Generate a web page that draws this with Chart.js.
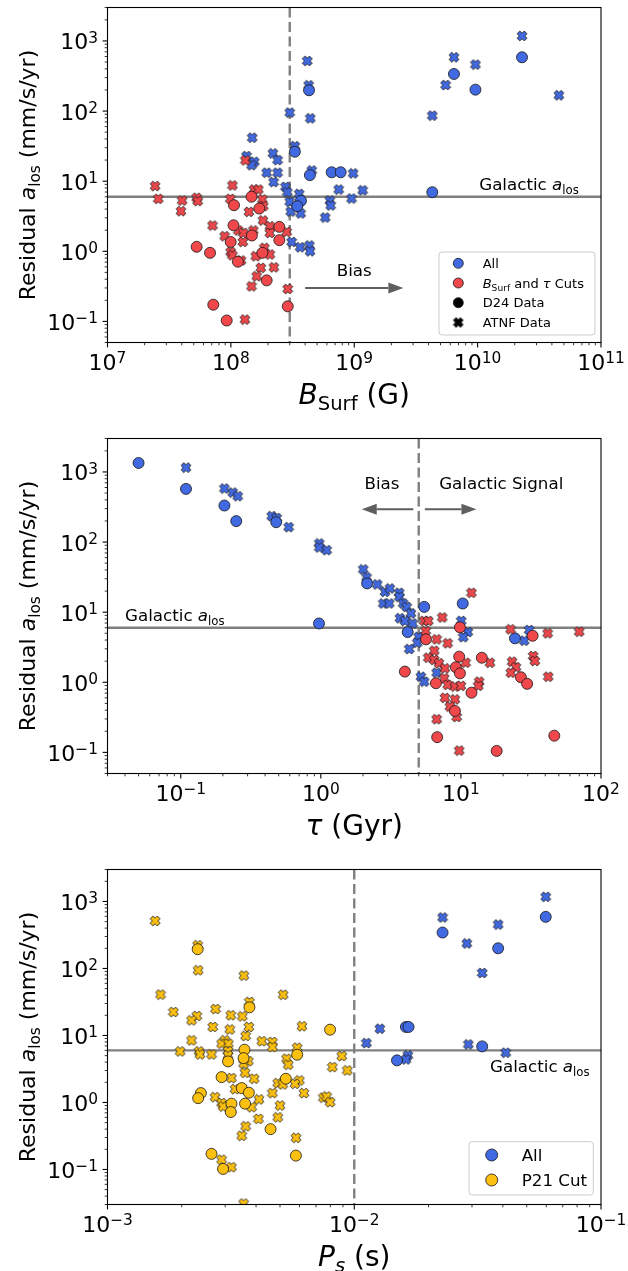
<!DOCTYPE html>
<html>
<head>
<meta charset="utf-8">
<script src="https://cdn.jsdelivr.net/npm/chart.js@4.4.0/dist/chart.umd.min.js"></script>
<style>
  html, body { margin: 0; padding: 0; background: #fff; width: 628px; height: 1271px; overflow: hidden; }
  .panel { position: absolute; left: 0; width: 628px; height: 431px; }
</style>
</head>
<body>
<div class="panel" style="top:0px"><canvas id="bsurfChart" width="628" height="431"></canvas></div>
<div class="panel" style="top:431px"><canvas id="tauChart" width="628" height="431"></canvas></div>
<div class="panel" style="top:862px"><canvas id="periodChart" width="628" height="431"></canvas></div>
<script>
// ---- residual a_los vs surface field B_Surf (G) ----
const bsurfAllD24 = [[4.3e8, 198], [3.3e8, 26.3], [4.37e8, 12.2], [6.56e8, 13.4], [7.76e8, 13.4], [3.7e8, 5.25],
    [3.45e8, 4.4], [2.29e10, 585], [6.43e9, 338], [9.6e9, 202], [4.29e9, 6.96]];
const bsurfAllAtnf = [[4.16e8, 518], [4.27e8, 233], [3.0e8, 95], [4.4e8, 78.7], [1.49e8, 41.7], [3.3e8, 31.6],
    [1.34e8, 22.8], [2.19e8, 24.9], [1.55e8, 18.9], [2.39e8, 20], [1.47e8, 16.9], [1.95e8, 13.2], [2.39e8, 13.2],
    [4.52e8, 14.2], [2.22e8, 9.7], [9.8e8, 12.9], [2.77e8, 8.3], [2.87e8, 6.96], [7.48e8, 7.6], [3.58e8, 6.6],
    [9.5e8, 5.66], [6.35e8, 5.3], [6.44e8, 4.5], [3.0e8, 5.1], [3.68e8, 3.46], [3.05e8, 3.69], [5.82e8, 3.03],
    [3.11e8, 1.36], [3.64e8, 1.14], [4.33e8, 1.21], [4.38e8, 1.0], [2.29e10, 1180], [6.43e9, 585], [9.6e9, 460],
    [5.5e9, 235], [4.29e9, 86], [4.56e10, 168], [1.17e9, 7.4]];
const bsurfCutD24 = [[1.47e8, 6.0], [1.06e8, 4.54], [1.7e8, 4.07], [1.05e8, 2.35], [2.47e8, 2.23], [1.48e8, 1.68],
    [9.96e7, 1.36], [2.47e8, 1.44], [5.28e7, 1.16], [6.78e7, 0.95], [1.8e8, 0.95], [1.14e8, 0.71], [1.95e8, 0.385],
    [7.2e7, 0.173], [2.89e8, 0.164], [9.25e7, 0.103]];
const bsurfCutAtnf = [[2.43e7, 8.5], [2.58e7, 5.6], [4.03e7, 5.3], [3.94e7, 3.73], [5.28e7, 5.8], [5.38e7, 5.2],
    [1.03e8, 8.7], [9.9e7, 5.6], [1.31e8, 19.8], [1.54e8, 7.6], [1.67e8, 7.6], [1.8e8, 5.5], [1.83e8, 4.4],
    [1.4e8, 3.65], [7.1e7, 2.33], [1.82e8, 2.75], [2.07e8, 2.28], [8.9e7, 1.64], [1.15e8, 1.98], [1.26e8, 1.83],
    [1.25e8, 1.36], [1.52e8, 1.98], [2.07e8, 1.83], [2.83e8, 1.89], [9.96e7, 0.98], [1.03e8, 0.877], [1.21e8, 0.74],
    [1.59e8, 0.85], [1.87e8, 1.12], [2.07e8, 0.9], [2.23e8, 0.59], [1.75e8, 0.58], [1.62e8, 0.44], [1.47e8, 0.316],
    [2.89e8, 0.29], [1.3e8, 0.106]];

// ---- residual a_los vs characteristic age tau (Gyr) ----
const tauAllD24 = [[0.05, 1343], [0.109, 573], [0.205, 332], [0.249, 199], [0.48, 192], [0.97, 6.9], [2.14, 25.7],
    [5.47, 11.9], [4.17, 5.2], [10.3, 13.3], [24.3, 4.24]];
const tauAllAtnf = [[0.109, 1155], [0.205, 580], [0.235, 509], [0.255, 451], [0.446, 234], [0.484, 220],
    [0.589, 163], [0.975, 95.5], [0.975, 83.8], [1.1, 76.7], [2.01, 40.7], [2.12, 31.3], [2.53, 24.9], [2.87, 19.5],
    [3.11, 21.8], [3.63, 18.9], [3.63, 16.6], [2.79, 13.3], [3.08, 13.3], [3.87, 13.3], [4.1, 11.9], [4.4, 9.6],
    [3.67, 8.2], [3.98, 7.5], [4.52, 6.9], [4.99, 4.46], [4.88, 3.67], [4.28, 2.98], [5.18, 1.2], [5.47, 1.02],
    [6.71, 1.37], [10.05, 7.5], [11.2, 5.2], [10.4, 4.4], [30.7, 5.56], [28.3, 3.92]];
const tauCutD24 = [[5.63, 4.1], [9.84, 6.07], [9.72, 2.32], [14.1, 2.24], [9.2, 1.64], [9.84, 1.34], [32.5, 4.61],
    [3.98, 1.42], [6.63, 0.97], [11.9, 0.71], [26.8, 1.18], [29.7, 0.95], [9.06, 0.39], [6.77, 0.165], [18, 0.105],
    [46.4, 0.173]];
const tauCutAtnf = [[11.9, 18.9], [7.36, 8.4], [5.47, 7.5], [5.85, 7.5], [5.6, 5.38], [6.71, 4.1], [8.04, 3.6],
    [6.45, 2.82], [5.85, 2.24], [6.45, 2.08], [6.97, 1.87], [7.69, 1.58], [10.8, 1.9], [16.1, 1.9], [23.2, 1.97],
    [24.7, 1.64], [22.7, 1.37], [32.8, 2.37], [33.7, 2.01], [41.6, 4.99], [69.9, 5.26], [22.6, 5.69], [42, 1.2],
    [7.6, 1.14], [8.04, 0.92], [9.06, 0.87], [10.0, 0.89], [13.5, 1.02], [13.3, 0.89], [7.69, 0.6], [9.06, 0.57],
    [8.34, 0.45], [9.32, 0.32], [6.71, 0.297], [9.72, 0.106]];

// ---- residual a_los vs spin period P_s (s) ----
const periodAllD24 = [[0.0597, 589], [0.0228, 344], [0.0383, 200], [0.0162, 13.4], [0.0166, 13.4], [0.033, 6.87],
    [0.0149, 4.25]];
const periodAllAtnf = [[0.0597, 1172], [0.0228, 577], [0.0383, 453], [0.0286, 236], [0.033, 85.7], [0.0127, 12.6],
    [0.0112, 7.7], [0.029, 7.36], [0.0411, 5.53], [0.0165, 5.04], [0.0162, 4.39]];
const periodCutD24 = [[0.00232, 194], [0.00376, 26.3], [0.00798, 12.2], [0.00359, 6.13], [0.00356, 4.59],
    [0.00308, 4.1], [0.00587, 5.16], [0.0029, 2.39], [0.00528, 2.26], [0.0035, 1.64], [0.00374, 1.4],
    [0.00239, 1.38], [0.00233, 1.16], [0.00318, 0.96], [0.00316, 0.72], [0.00361, 0.96], [0.00458, 0.4],
    [0.00264, 0.171], [0.0058, 0.161], [0.00294, 0.102]];
const periodCutAtnf = [[0.00156, 513], [0.00232, 222], [0.00233, 94], [0.00357, 78.3], [0.00164, 40.7],
    [0.00515, 40.6], [0.00376, 31.6], [0.00185, 22.4], [0.00274, 24.8], [0.0023, 19.5], [0.00219, 16.8],
    [0.00316, 20], [0.00352, 19.3], [0.00267, 13.4], [0.00313, 12.3], [0.00374, 13.4], [0.00614, 13.7],
    [0.00219, 8.45], [0.00299, 8.45], [0.0029, 7.54], [0.00309, 7.54], [0.00363, 9.8], [0.00422, 8.2],
    [0.00466, 8.0], [0.00466, 6.7], [0.00587, 6.57], [0.00197, 5.78], [0.00235, 5.78], [0.00237, 5.22],
    [0.00264, 5.22], [0.00308, 5.85], [0.00308, 5.04], [0.00372, 4.14], [0.00356, 3.79], [0.00532, 4.5],
    [0.0054, 3.66], [0.0089, 4.92], [0.00815, 3.37], [0.00937, 3.01], [0.00318, 2.31], [0.00361, 2.78],
    [0.00393, 2.26], [0.00599, 2.13], [0.0049, 1.94], [0.00513, 1.86], [0.00575, 1.9], [0.00329, 1.58],
    [0.00466, 1.38], [0.00625, 1.38], [0.00273, 1.2], [0.0029, 0.98], [0.00294, 0.87], [0.00384, 0.85],
    [0.00411, 1.11], [0.005, 0.9], [0.0075, 1.18], [0.00773, 1.23], [0.00798, 1.01], [0.00409, 0.57],
    [0.0049, 0.6], [0.00363, 0.44], [0.0035, 0.318], [0.00581, 0.297], [0.0029, 0.14], [0.00318, 0.108],
    [0.00356, 0.031]];

// axis limits and reference values
const bsurfRange = [1e7, 1e11];
const tauRange = [0.03, 100];
const periodRange = [1e-3, 1e-1];
const alosRange = [0.05, 3000];
const alosRangePeriod = [0.03, 3000];
const galacticAlos = 6;
const bsurfCut = 3e8;
const tauCut = 5;
const periodCut = 0.01;

const BLUE = '#4169e1';
const RED = '#f0474b';
const GOLD = '#fcc010';
const EDGE = 'rgba(25,25,25,0.9)';
const FONT = '"DejaVu Sans"';

// filled "X" marker as a small canvas so Chart.js can use it as pointStyle
function makeCross(fill, size) {
    const c = document.createElement('canvas');
    c.width = c.height = size;
    const g = c.getContext('2d');
    const L = size * 0.42, a = L * 0.38;
    const pts = [[a, L], [a, a], [L, a], [L, -a], [a, -a], [a, -L], [-a, -L], [-a, -a], [-L, -a], [-L, a], [-a, a], [-a, L]];
    g.translate(size / 2, size / 2);
    g.rotate(Math.PI / 4);
    g.beginPath();
    pts.forEach(([x, y], i) => i ? g.lineTo(x, y) : g.moveTo(x, y));
    g.closePath();
    g.fillStyle = fill;
    g.fill();
    g.lineWidth = 0.9;
    g.strokeStyle = EDGE;
    g.stroke();
    return c;
}

const crossBlue = makeCross(BLUE, 12);
const crossRed = makeCross(RED, 12);
const crossGold = makeCross(GOLD, 12);
const crossBlack = makeCross('#000', 12);

function circleSet(points, color) {
    return {
        data: points.map(p => ({ x: p[0], y: p[1] })),
        pointStyle: 'circle', pointRadius: 5.5, backgroundColor: color,
        borderColor: EDGE, borderWidth: 0.9, showLine: false, clip: 0
    };
}
function crossSet(points, img) {
    return {
        data: points.map(p => ({ x: p[0], y: p[1] })),
        pointStyle: img, pointRadius: 5, showLine: false, clip: 0
    };
}

// ---- rich text: italic / sub / superscript pieces ----
function partFont(p, size) {
    return (p.it ? 'italic ' : '') + (size * (p.k || 1)).toFixed(1) + 'px ' + FONT;
}
function richWidth(ctx, parts, size) {
    let w = 0;
    for (const p of parts) { ctx.font = partFont(p, size); w += ctx.measureText(p.t).width; }
    return w;
}
function drawRich(ctx, parts, x, y, size, align) {
    const w = richWidth(ctx, parts, size);
    let cx = align === 'center' ? x - w / 2 : align === 'right' ? x - w : x;
    ctx.textAlign = 'left';
    ctx.textBaseline = 'alphabetic';
    for (const p of parts) {
        ctx.font = partFont(p, size);
        ctx.fillText(p.t, cx, y + (p.dy || 0) * size);
        cx += ctx.measureText(p.t).width;
    }
}
const sub = (t, it) => ({ t, k: 0.7, dy: 0.22, it });
function powParts(e) {
    return [{ t: '10' }, { t: (e < 0 ? '\u2212' : '') + Math.abs(e), k: 0.7, dy: -0.3 }];
}
const galacticLabel = [{ t: 'Galactic ' }, { t: 'a', it: true }, sub('los')];
const yTitle = [{ t: 'Residual ' }, { t: 'a', it: true }, sub('los'), { t: ' (mm/s/yr)' }];

function logTicks(min, max) {
    const out = [];
    for (let e = Math.floor(Math.log10(min)); e <= Math.ceil(Math.log10(max)); e++) {
        for (let m = 1; m < 10; m++) {
            const v = m * Math.pow(10, e);
            if (v >= min * 0.9999 && v <= max * 1.0001) out.push({ v, e, major: m === 1 });
        }
    }
    return out;
}

// frame, ticks, tick labels and axis titles
function drawAxes(chart, xTitle) {
    const ctx = chart.ctx;
    const { left, right, top, bottom } = chart.chartArea;
    const xs = chart.scales.x, ys = chart.scales.y;
    ctx.save();
    ctx.strokeStyle = '#000';
    ctx.fillStyle = '#000';
    for (const t of logTicks(xs.min, xs.max)) {
        const px = xs.getPixelForValue(t.v);
        ctx.lineWidth = t.major ? 1.1 : 0.8;
        ctx.beginPath();
        ctx.moveTo(px, bottom);
        ctx.lineTo(px, bottom + (t.major ? 4.9 : 2.8));
        ctx.stroke();
        if (t.major) drawRich(ctx, powParts(t.e), px, bottom + 27.5, 22, 'center');
    }
    for (const t of logTicks(ys.min, ys.max)) {
        const py = ys.getPixelForValue(t.v);
        ctx.lineWidth = t.major ? 1.1 : 0.8;
        ctx.beginPath();
        ctx.moveTo(left, py);
        ctx.lineTo(left - (t.major ? 4.9 : 2.8), py);
        ctx.stroke();
        if (t.major) drawRich(ctx, powParts(t.e), left - 9.5, py + 8.5, 22, 'right');
    }
    ctx.lineWidth = 1.1;
    ctx.strokeRect(left, top, right - left, bottom - top);
    drawRich(ctx, xTitle, (left + right) / 2, bottom + 61.5, 28, 'center');
    ctx.translate(35, (top + bottom) / 2);
    ctx.rotate(-Math.PI / 2);
    drawRich(ctx, yTitle, 0, 0, 22, 'center');
    ctx.restore();
}

function drawGuides(chart, xCut) {
    const ctx = chart.ctx;
    const { left, right, top, bottom } = chart.chartArea;
    const px = chart.scales.x.getPixelForValue(xCut);
    const py = chart.scales.y.getPixelForValue(galacticAlos);
    ctx.save();
    ctx.strokeStyle = '#808080';
    ctx.lineWidth = 2.4;
    ctx.beginPath();
    ctx.moveTo(left, py);
    ctx.lineTo(right, py);
    ctx.stroke();
    ctx.setLineDash([10, 4.5]);
    ctx.beginPath();
    ctx.moveTo(px, top);
    ctx.lineTo(px, bottom);
    ctx.stroke();
    ctx.restore();
}

function arrow(ctx, x0, x1, y) {
    const dir = Math.sign(x1 - x0), head = 15, hw = 5.5;
    ctx.save();
    ctx.strokeStyle = ctx.fillStyle = '#5f5f5f';
    ctx.lineWidth = 2;
    ctx.beginPath();
    ctx.moveTo(x0, y);
    ctx.lineTo(x1 - dir * head, y);
    ctx.stroke();
    ctx.beginPath();
    ctx.moveTo(x1, y);
    ctx.lineTo(x1 - dir * head, y - hw);
    ctx.lineTo(x1 - dir * head, y + hw);
    ctx.closePath();
    ctx.fill();
    ctx.restore();
}

function drawLegend(ctx, box, rows, size, markerX, textX) {
    ctx.save();
    const [x0, y0, x1, y1] = box, r = 3;
    ctx.beginPath();
    ctx.moveTo(x0 + r, y0);
    ctx.arcTo(x1, y0, x1, y1, r);
    ctx.arcTo(x1, y1, x0, y1, r);
    ctx.arcTo(x0, y1, x0, y0, r);
    ctx.arcTo(x0, y0, x1, y0, r);
    ctx.closePath();
    ctx.fillStyle = 'rgba(255,255,255,0.8)';
    ctx.fill();
    ctx.strokeStyle = '#cccccc';
    ctx.lineWidth = 1;
    ctx.stroke();
    for (const row of rows) {
        if (row.cross) {
            ctx.drawImage(row.cross, markerX - row.cross.width / 2, row.y - row.cross.height / 2);
        } else {
            ctx.beginPath();
            ctx.arc(markerX, row.y, row.r, 0, Math.PI * 2);
            ctx.fillStyle = row.color;
            ctx.fill();
            ctx.lineWidth = 0.9;
            ctx.strokeStyle = EDGE;
            ctx.stroke();
        }
        ctx.fillStyle = '#000';
        drawRich(ctx, row.label, textX, row.y + size * 0.36, size, 'left');
    }
    ctx.restore();
}

function makePanel(id, datasets, xRange, yRange, xCut, xTitle, annotate) {
    const decor = {
        id: 'decor',
        beforeDatasetsDraw(chart) { drawGuides(chart, xCut); },
        afterDatasetsDraw(chart) {
            annotate(chart);
            drawAxes(chart, xTitle);
        }
    };
    return new Chart(document.getElementById(id), {
        type: 'scatter',
        data: { datasets },
        options: {
            responsive: false,
            animation: false,
            devicePixelRatio: 1,
            events: [],
            layout: { padding: { left: 107.5, right: 27, top: 7.5, bottom: 88.5 } },
            scales: {
                x: { type: 'logarithmic', min: xRange[0], max: xRange[1], display: false },
                y: { type: 'logarithmic', min: yRange[0], max: yRange[1], display: false }
            },
            plugins: { legend: { display: false }, tooltip: { enabled: false } }
        },
        plugins: [decor]
    });
}

// datasets listed top-most first (Chart.js paints index 0 last)
makePanel('bsurfChart', [
    circleSet(bsurfCutD24, RED), crossSet(bsurfCutAtnf, crossRed),
    circleSet(bsurfAllD24, BLUE), crossSet(bsurfAllAtnf, crossBlue)
], bsurfRange, alosRange, bsurfCut, [{ t: 'B', it: true }, sub('Surf'), { t: ' (G)' }], chart => {
    const ctx = chart.ctx, xs = chart.scales.x, ys = chart.scales.y;
    const yLine = ys.getPixelForValue(galacticAlos);
    ctx.fillStyle = '#000';
    drawRich(ctx, galacticLabel, xs.getPixelForValue(1.03e10), yLine - 6.5, 16.7, 'left');
    const a0 = xs.getPixelForValue(4e8), a1 = xs.getPixelForValue(2.5e9), ay = ys.getPixelForValue(0.3);
    arrow(ctx, a0, a1, ay);
    ctx.fillStyle = '#000';
    drawRich(ctx, [{ t: 'Bias' }], (a0 + a1) / 2, ay - 12, 16.7, 'center');
    drawLegend(ctx, [439, 252, 595, 335], [
        { y: 263.3, r: 5, color: BLUE, label: [{ t: 'All' }] },
        { y: 283, r: 5, color: RED, label: [{ t: 'B', it: true }, sub('Surf'), { t: ' and ' }, { t: '\u03c4', it: true }, { t: ' Cuts' }] },
        { y: 302.7, r: 5, color: '#000', label: [{ t: 'D24 Data' }] },
        { y: 322.5, cross: crossBlack, label: [{ t: 'ATNF Data' }] }
    ], 13, 458.3, 482.7);
});

makePanel('tauChart', [
    circleSet(tauCutD24, RED), crossSet(tauCutAtnf, crossRed),
    circleSet(tauAllD24, BLUE), crossSet(tauAllAtnf, crossBlue)
], tauRange, alosRange, tauCut, [{ t: '\u03c4', it: true }, { t: ' (Gyr)' }], chart => {
    const ctx = chart.ctx, xs = chart.scales.x, ys = chart.scales.y;
    const yLine = ys.getPixelForValue(galacticAlos);
    ctx.fillStyle = '#000';
    drawRich(ctx, galacticLabel, xs.getPixelForValue(0.04), yLine - 6.5, 16.7, 'left');
    const ay = ys.getPixelForValue(294);
    arrow(ctx, xs.getPixelForValue(4.57), xs.getPixelForValue(1.96), ay);
    arrow(ctx, xs.getPixelForValue(5.53), xs.getPixelForValue(12.9), ay);
    ctx.fillStyle = '#000';
    drawRich(ctx, [{ t: 'Bias' }], xs.getPixelForValue(2.73), ay - 20, 16.7, 'center');
    drawRich(ctx, [{ t: 'Galactic Signal' }], xs.getPixelForValue(19.4), ay - 20, 16.7, 'center');
});

makePanel('periodChart', [
    circleSet(periodCutD24, GOLD), crossSet(periodCutAtnf, crossGold),
    circleSet(periodAllD24, BLUE), crossSet(periodAllAtnf, crossBlue)
], periodRange, alosRangePeriod, periodCut, [{ t: 'P', it: true }, sub('s', true), { t: ' (s)' }], chart => {
    const ctx = chart.ctx, xs = chart.scales.x, ys = chart.scales.y;
    const yLine = ys.getPixelForValue(galacticAlos);
    ctx.fillStyle = '#000';
    drawRich(ctx, galacticLabel, xs.getPixelForValue(0.0355), yLine + 22, 16.7, 'left');
    drawLegend(ctx, [469, 279.7, 593.3, 333], [
        { y: 293, r: 6, color: BLUE, label: [{ t: 'All' }] },
        { y: 318, r: 6, color: GOLD, label: [{ t: 'P21 Cut' }] }
    ], 16.7, 491.7, 521.7);
});
</script>
</body>
</html>
